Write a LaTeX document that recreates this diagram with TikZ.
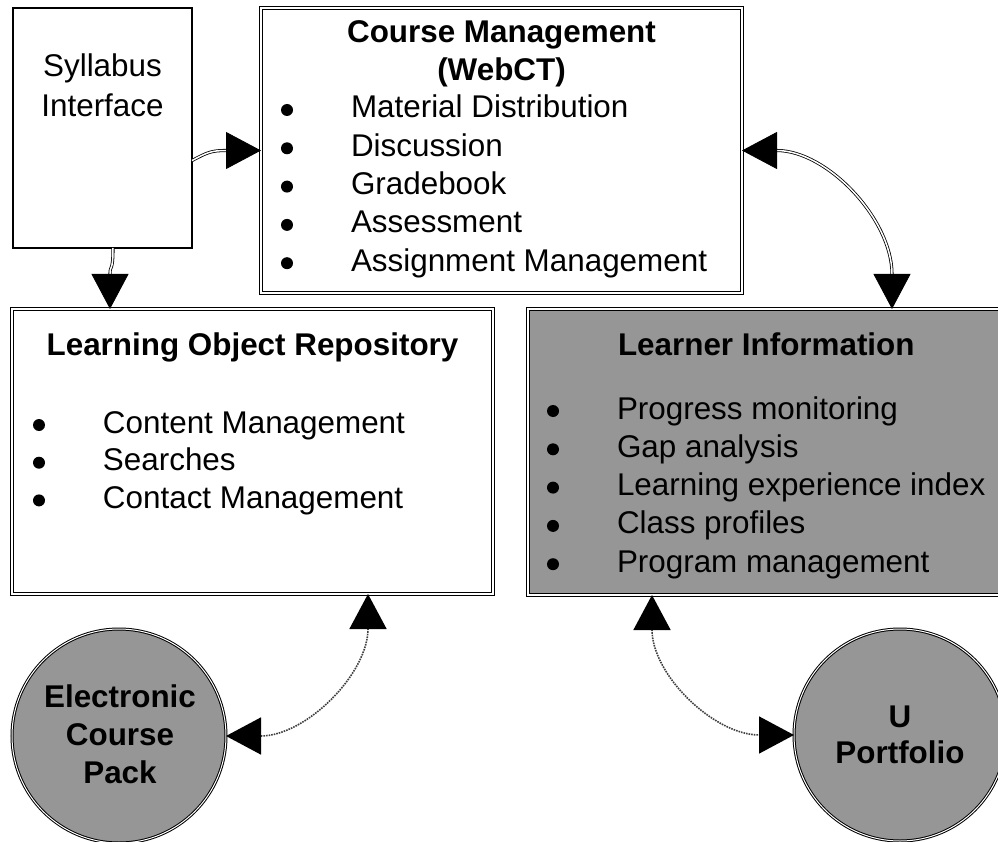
\documentclass[tikz,border=0pt]{standalone}
\usepackage{fontspec}
\setmainfont{Liberation Sans}
\usetikzlibrary{arrows.meta,calc}
\definecolor{boxgray}{RGB}{150,150,150}
\newcommand\listf{\fontsize{31.4}{38.3}\selectfont}
\newcommand\titf{\fontsize{31.4}{37.5}\selectfont\bfseries}
\newcommand\blt{\tikz[baseline=0pt]\fill[black] (6pt,8pt) circle (6pt);}
\newcommand\bitem[1]{\makebox[70pt][l]{\blt}#1}
\begin{document}
\begin{tikzpicture}[x=1pt,y=-1pt,
  >={Triangle[length=35pt,width=37pt,color=black,fill=black]},
  boxst/.style={draw=black, line width=1pt, double=white, double distance=1.5pt, inner sep=0pt, outer sep=0pt, anchor=north west},
  sylst/.style={draw=black, line width=2.2pt, fill=white, inner sep=0pt, outer sep=0pt, anchor=north west},
  circst/.style={circle, draw=black, line width=1pt, double=white, double distance=1pt, fill=boxgray, inner sep=0pt, outer sep=0pt},
  txt/.style={inner sep=0pt, outer sep=0pt},
  solidcon/.style={draw=black, line width=0.8pt, double=white, double distance=1.5pt},
  dotcon/.style={draw=black!75, line width=1.6pt, densely dotted}]
\useasboundingbox (0,0) rectangle (998,842);
\fill[white] (0,0) rectangle (998,842);

% boxes
\node[sylst, minimum width=179pt, minimum height=240pt] (syl) at (13,8) {};
\node[boxst, fill=white, minimum width=481pt, minimum height=285pt] (cm) at (261,8) {};
\node[boxst, fill=white, minimum width=481pt, minimum height=285pt] (lor) at (12,309) {};
\node[boxst, fill=boxgray, minimum width=477pt, minimum height=286pt] (li) at (528,309) {};
\node[circst, minimum size=214pt] (ecp) at (119,736) {};
\node[circst, minimum size=212pt] (up) at (900,735) {};

% connectors
\draw[solidcon,->] (syl.-20) .. controls +(15,-8) and +(-50,0) .. (cm.west);
\draw[solidcon,->] (syl.-85) .. controls +(0,25) and +(0,-45) .. (lor.135);
\draw[solidcon,<->] (cm.east) .. controls +(85,0) and +(0,-90) .. ($(li.north west)+(364,0)$);
\draw[dotcon,<->] ($(lor.south west)+(356,0)$) .. controls +(0,80) and +(80,0) .. (ecp.east);
\draw[dotcon,<->] ($(li.south west)+(124,0)$) .. controls +(0,80) and +(-80,0) .. (up.west);

% texts
\node[txt, anchor=base] (sylt) at (102.5,77)
  {\fontsize{31.4}{39.5}\selectfont\begin{tabular}[t]{@{}c@{}}Syllabus\\Interface\end{tabular}};
\node[txt, anchor=base] (cmt) at (501.5,43)
  {\titf\begin{tabular}[t]{@{}c@{}}Course Management\\(WebCT)\end{tabular}};
\node[txt, anchor=base west] (cml) at (281,118)
  {\listf\begin{tabular}[t]{@{}l@{}}\bitem{Material Distribution}\\\bitem{Discussion}\\\bitem{Gradebook}\\\bitem{Assessment}\\\bitem{Assignment Management}\end{tabular}};
\node[txt, anchor=base] (lort) at (252.5,355) {\titf Learning Object Repository};
\node[txt, anchor=base west] (lorl) at (33,433)
  {\fontsize{31.4}{37.7}\selectfont\begin{tabular}[t]{@{}l@{}}\bitem{Content Management}\\\bitem{Searches}\\\bitem{Contact Management}\end{tabular}};
\node[txt, anchor=base west] (lit) at (618,355) {\titf Learner Information};
\node[txt, anchor=base west] (lil) at (547,419)
  {\listf\begin{tabular}[t]{@{}l@{}}\bitem{Progress monitoring}\\\bitem{Gap analysis}\\\bitem{Learning experience index}\\\bitem{Class profiles}\\\bitem{Program management}\end{tabular}};
\node[txt, anchor=base] (ecpt) at (120,707)
  {\fontsize{31.4}{38}\selectfont\bfseries\begin{tabular}[t]{@{}c@{}}Electronic\\Course\\Pack\end{tabular}};
\node[txt, anchor=base] (upt) at (900,727)
  {\fontsize{31.4}{36}\selectfont\bfseries\begin{tabular}[t]{@{}c@{}}U\\Portfolio\end{tabular}};
\end{tikzpicture}
\end{document}
